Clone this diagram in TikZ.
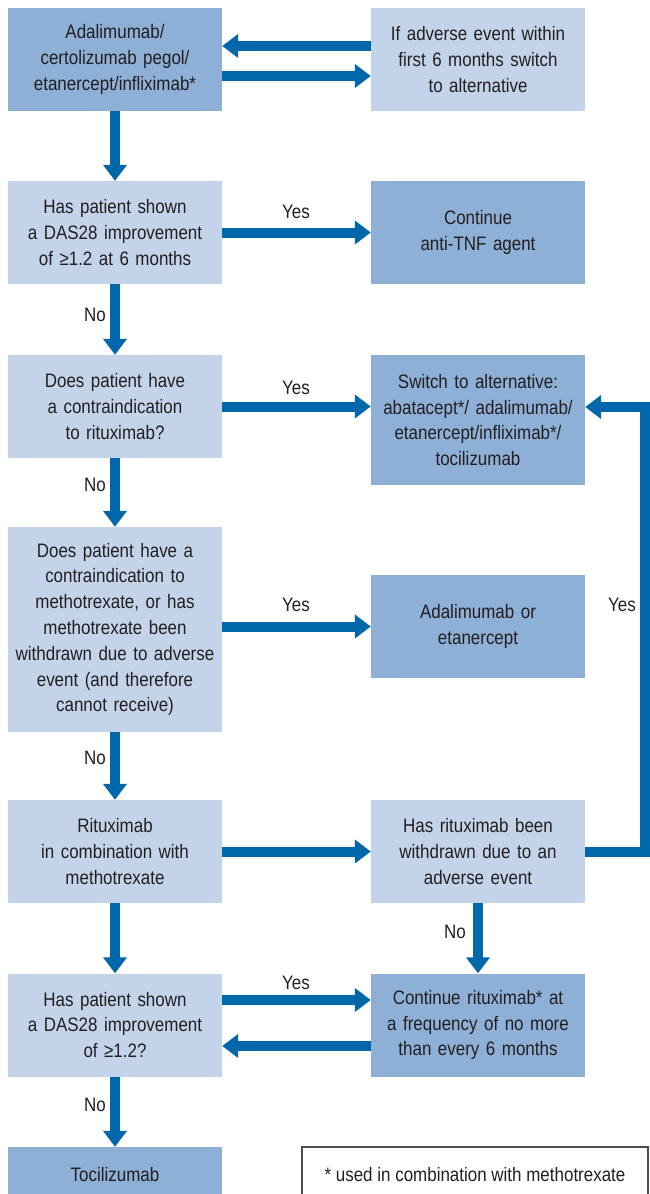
\documentclass[tikz,border=0pt]{standalone}
\usepackage{fontspec}
\setmainfont{Liberation Sans}[FakeStretch=0.87]
\usetikzlibrary{arrows.meta}
\definecolor{darkbox}{HTML}{8EAFD6}
\definecolor{lightbox}{HTML}{C3D3EA}
\definecolor{flowblue}{HTML}{0067AA}
\definecolor{txt}{HTML}{231F20}
\definecolor{notegray}{HTML}{4D4D4D}

\begin{document}
\begin{tikzpicture}[x=1pt,y=-1pt,
  every node/.style={inner sep=2pt, align=center, text=txt,
    font=\fontsize{19.5}{25.8}\selectfont},
  box/.style={minimum width=214pt, minimum height=103pt, text width=210pt},
  dark/.style={box, fill=darkbox},
  light/.style={box, fill=lightbox},
  flow/.style={draw=flowblue, line width=10pt,
    -{Triangle[length=16pt,width=23pt]}}]
\useasboundingbox (0,0) rectangle (650,1194);
\clip (0,0) rectangle (650,1194);
% left column
\node[dark] (start) at (115,59.5) {Adalimumab/\\certolizumab pegol/\\etanercept/infliximab*};
\node[light] (improve) at (115,232.5) {Has patient shown\\a DAS28 improvement\\of ≥1.2 at 6 months};
\node[light] (contra) at (115,406.5) {Does patient have\\a contraindication\\to rituximab?};
\node[light, minimum height=205pt] (mtx) at (115,629.5) {Does patient have a\\contraindication to\\methotrexate, or has\\methotrexate been\\withdrawn due to adverse\\event (and therefore\\cannot receive)};
\node[light] (ritux) at (115,851.5) {Rituximab\\in combination with\\methotrexate};
\node[light] (improvetwo) at (115,1025) {Has patient shown\\a DAS28 improvement\\of ≥1.2?};
\node[dark, minimum height=56pt] (toci) at (115,1175) {Tocilizumab};
% right column
\node[light] (adverse) at (478,59.5) {If adverse event within\\first 6 months switch\\to alternative};
\node[dark] (keep) at (478,232.5) {Continue\\anti-TNF agent};
\node[dark, minimum height=130pt] (switch) at (478,420) {Switch to alternative:\\abatacept*/ adalimumab/\\etanercept/infliximab*/\\tocilizumab};
\node[dark] (adaeta) at (478,626.5) {Adalimumab or\\etanercept};
\node[light] (withdrawn) at (478,851.5) {Has rituximab been\\withdrawn due to an\\adverse event};
\node[dark] (keepritux) at (478,1025) {Continue rituximab* at\\a frequency of no more\\than every 6 months};
\node[draw=notegray, line width=1.2pt, minimum width=346pt, minimum height=56pt] (note) at (475,1175) {* used in combination with methotrexate};
\coordinate (loop) at (645,407);
% connectors
\draw[flow] ([yshift=13.5pt]adverse.west) -- ([yshift=13.5pt]start.east);
\draw[flow] ([yshift=-16.5pt]start.east) -- ([yshift=-16.5pt]adverse.west);
\draw[flow] (start) -- (improve);
\draw[flow] (improve) -- (keep);
\draw[flow] (improve) -- (contra);
\draw[flow] (contra.east) -- (contra.east -| switch.west);
\draw[flow] (contra) -- (mtx);
\draw[flow] (mtx.east |- adaeta) -- (adaeta.west);
\draw[flow] (mtx) -- (ritux);
\draw[flow] (ritux) -- (withdrawn);
\draw[flow] (withdrawn.east) -| (loop) -- (loop -| switch.east);
\draw[flow] (withdrawn) -- (keepritux);
\draw[flow] (ritux) -- (improvetwo);
\draw[flow] ([yshift=25pt]improvetwo.east) -- ([yshift=25pt]keepritux.west);
\draw[flow] ([yshift=-21pt]keepritux.west) -- ([yshift=-21pt]improvetwo.east);
\draw[flow] (improvetwo) -- (toci);
% labels
\node (yesone) at (296,212) {Yes};
\node (yestwo) at (296,388) {Yes};
\node (yesthree) at (296,605) {Yes};
\node (yesfour) at (296,983) {Yes};
\node (yesloop) at (622,605) {Yes};
\node (noone) at (95,315) {No};
\node (notwo) at (95,485) {No};
\node (nothree) at (95,758) {No};
\node (nofour) at (95,1105) {No};
\node (noright) at (455,932) {No};
\end{tikzpicture}
\end{document}
